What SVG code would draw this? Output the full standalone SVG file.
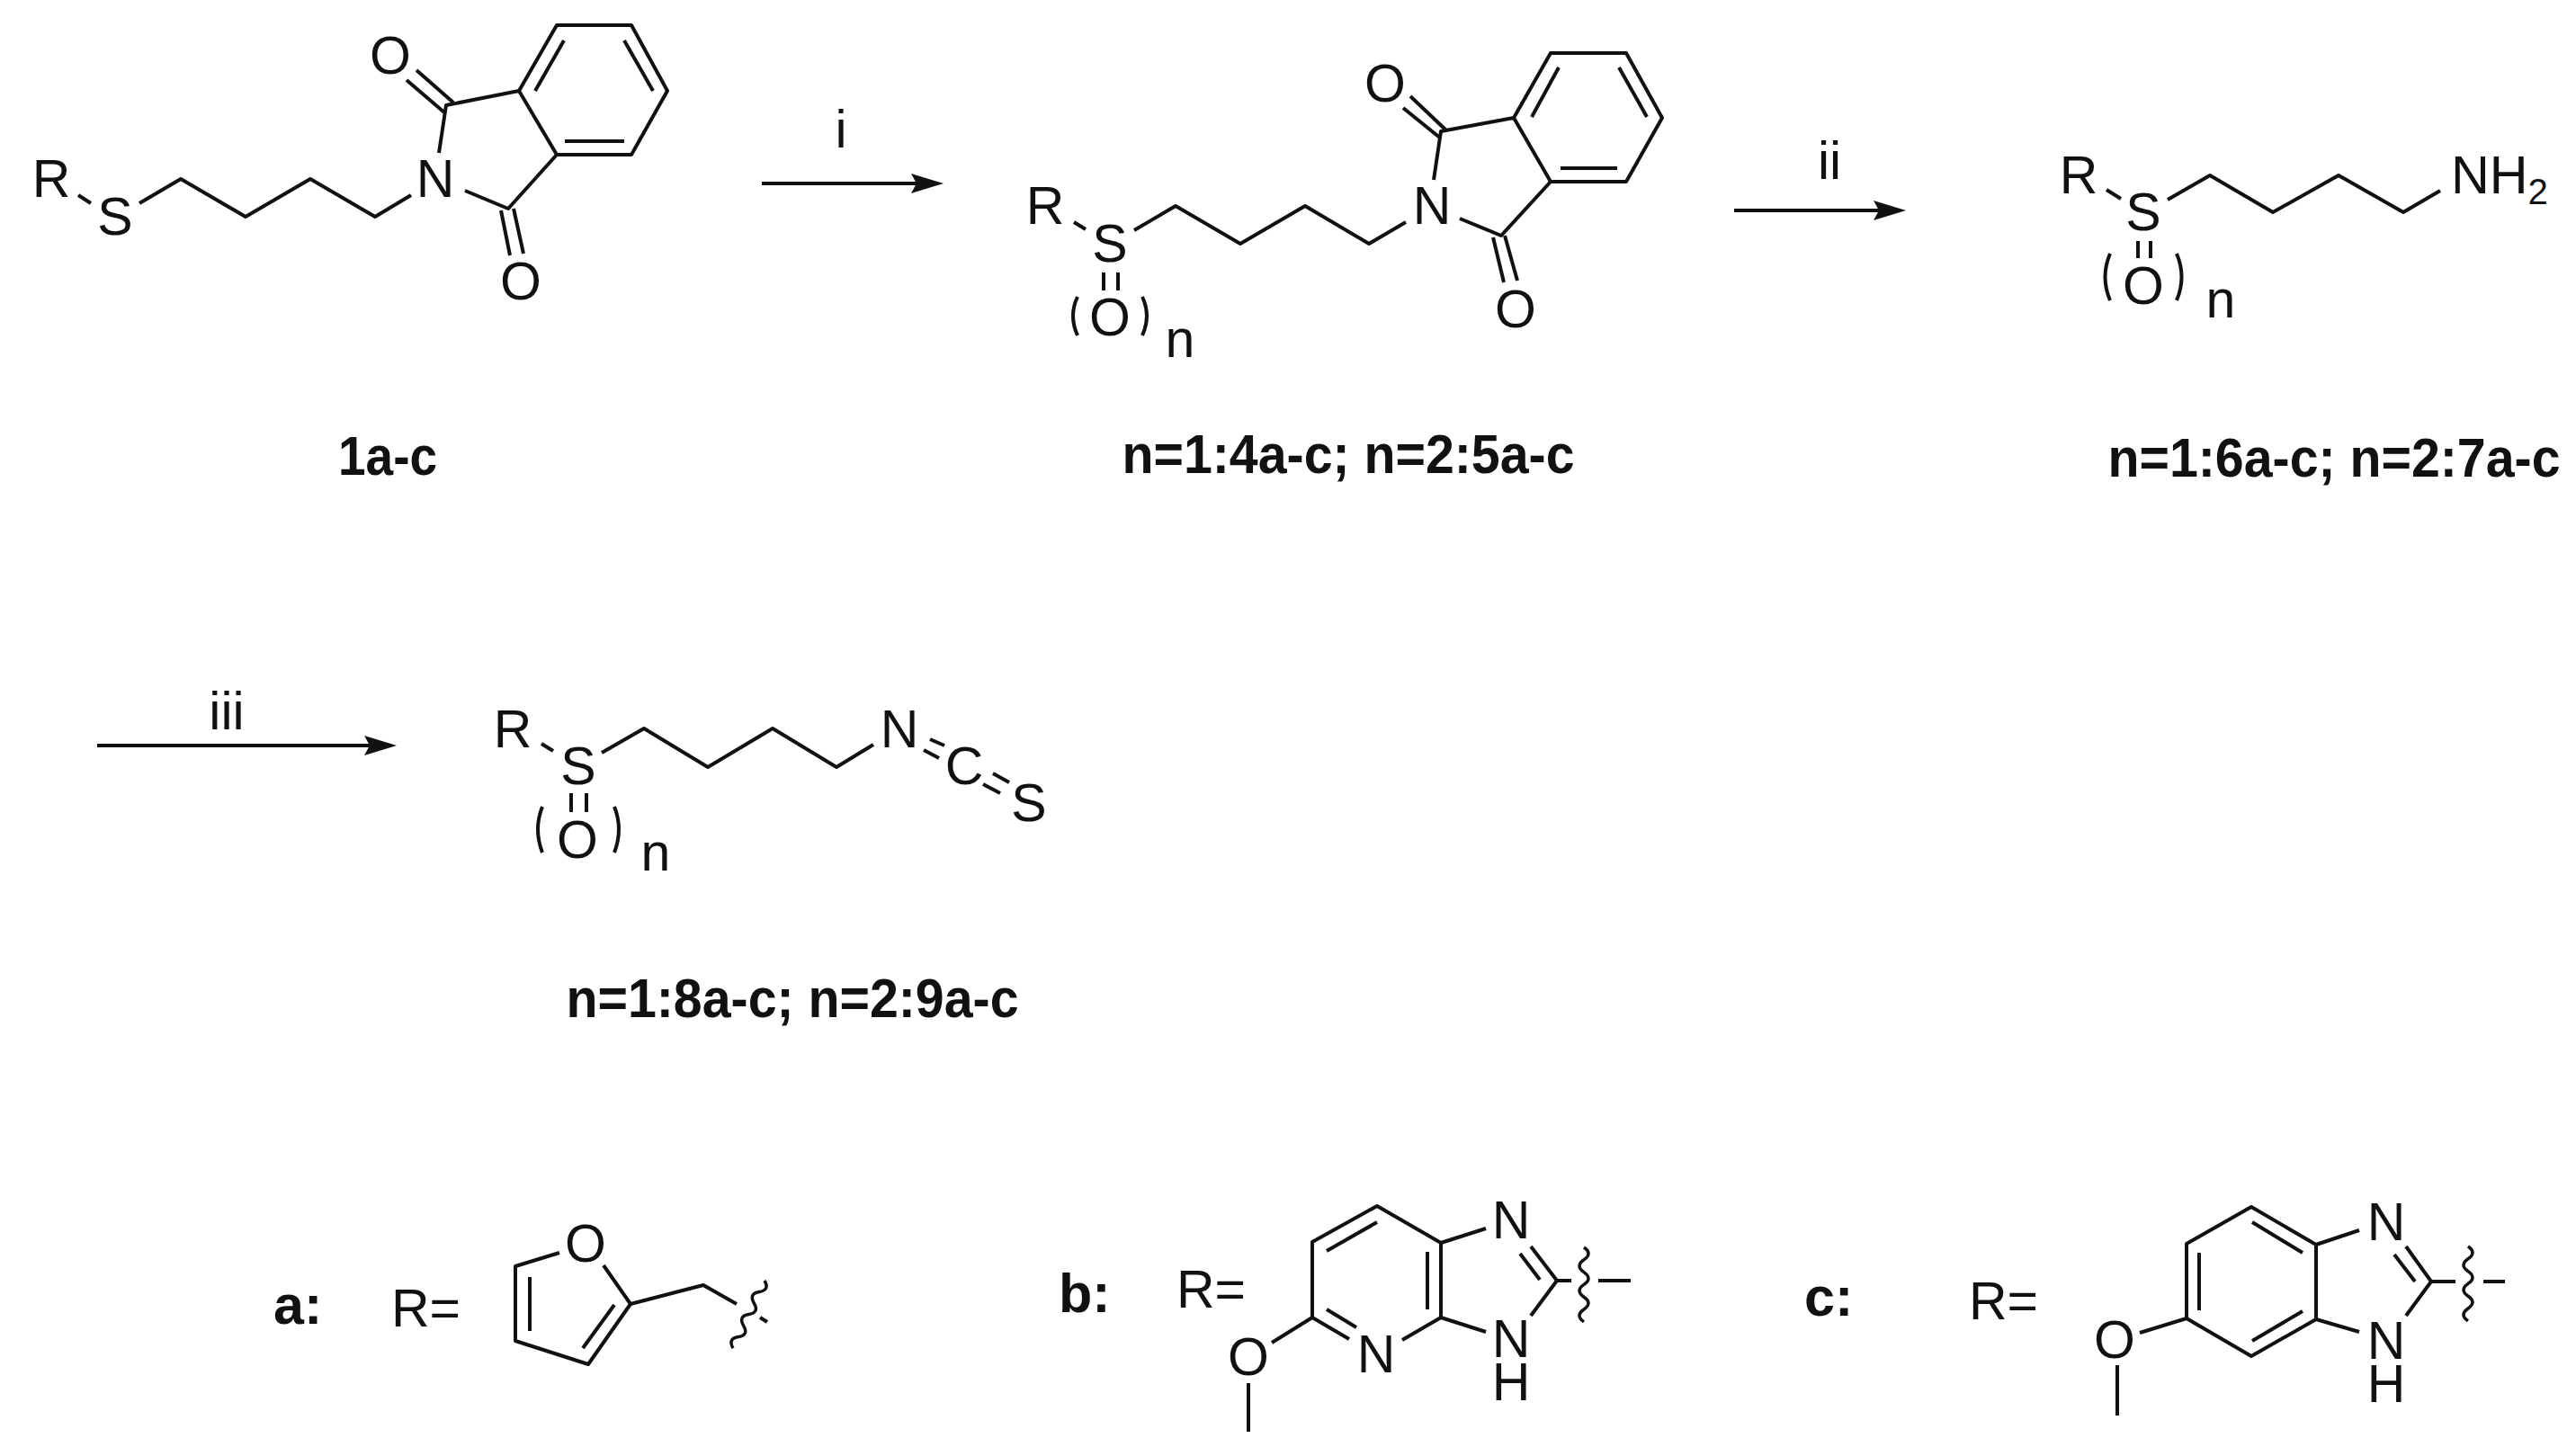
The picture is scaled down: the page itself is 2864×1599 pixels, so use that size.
<svg xmlns="http://www.w3.org/2000/svg" xmlns:xlink="http://www.w3.org/1999/xlink" width="2864" height="1599" viewBox="0 0 2864 1599">
<style>
text{font-family:"Liberation Sans",Arial,sans-serif;fill:#111;font-size:59px}
.a{text-anchor:middle}
.b{font-weight:bold;font-size:61px}
.s{font-size:40px}
path,line,polyline{fill:none;stroke:#111;stroke-width:4;stroke-linejoin:round}
.w{stroke-width:3.5}
.h{fill:#111;stroke:none}
</style>
<defs>
<marker id="ah" markerUnits="userSpaceOnUse" markerWidth="38" markerHeight="24" viewBox="0 0 38 24" refX="26" refY="12" orient="auto"><path class="h" d="M1,1 L37,12 L1,23 L7,12z"/></marker>
<path id="wav" class="w" d="M0,0 q10,6.9 0,13.8 t0,13.8 t0,13.8 t0,13.8 t0,13.8 t0,13.8"/>
</defs>
<rect width="2864" height="1599" fill="#fff"/>
<g id="connectors">
<line x1="847" y1="204" x2="1038" y2="204" marker-end="url(#ah)"/>
<line x1="1928" y1="234" x2="2108" y2="234" marker-end="url(#ah)"/>
<line x1="108" y1="829" x2="430" y2="829" marker-end="url(#ah)"/>
<text class="a" x="935" y="164">i</text>
<text class="a" x="2034" y="199">ii</text>
<text class="a" x="252" y="811">iii</text>
</g>
<g id="compound-1">
<polyline points="155,226 201,199 273,241 345,199 417,241 457,217"/>
<line x1="87" y1="217" x2="101" y2="226"/>
<polyline points="488,170 496,117 577,101 619,172 702,172 742,101 702,28 619,28 577,101"/>
<polyline points="517,212 565,232 619,172"/>
<line x1="628" y1="157" x2="694" y2="157"/>
<line x1="595" y1="101" x2="627" y2="45"/>
<line x1="694" y1="45" x2="726" y2="101"/>
<line x1="463" y1="78" x2="504" y2="114"/>
<line x1="452" y1="89" x2="494" y2="125"/>
<line x1="557" y1="234" x2="567" y2="284"/>
<line x1="571" y1="232" x2="582" y2="282"/>
<text class="a" x="57" y="219">R</text>
<text class="a" x="128" y="261">S</text>
<text class="a" x="484" y="219">N</text>
<text class="a" x="434" y="82">O</text>
<text class="a" x="579" y="333">O</text>
<text class="a b" x="431" y="528" textLength="110" lengthAdjust="spacingAndGlyphs">1a-c</text>
</g>
<g id="compound-4-5">
<polyline points="1261,256 1307,229 1379,271 1451,229 1522,271 1563,247"/>
<line x1="1194" y1="247" x2="1207" y2="255"/>
<polyline points="1594,200 1602,146 1683,131 1724,202 1808,202 1848,131 1808,59 1724,59 1683,131"/>
<polyline points="1623,243 1669,262 1724,202"/>
<line x1="1735" y1="187" x2="1798" y2="187"/>
<line x1="1703" y1="130" x2="1733" y2="75"/>
<line x1="1800" y1="75" x2="1831" y2="130"/>
<line x1="1568" y1="107" x2="1608" y2="145"/>
<line x1="1560" y1="120" x2="1602" y2="154"/>
<line x1="1660" y1="264" x2="1672" y2="314"/>
<line x1="1673" y1="262" x2="1687" y2="312"/>
<line x1="1227" y1="303" x2="1227" y2="323"/>
<line x1="1243" y1="303" x2="1243" y2="323"/>
<path d="M1198,330 Q1188,351 1198,373"/>
<path d="M1270,330 Q1280,351 1270,373"/>
<text class="a" x="1162" y="249">R</text>
<text class="a" x="1234" y="291">S</text>
<text class="a" x="1592" y="249">N</text>
<text class="a" x="1540" y="113">O</text>
<text class="a" x="1685" y="364">O</text>
<text class="a" x="1234" y="373">O</text>
<text class="a" x="1312" y="397">n</text>
<text class="a b" x="1499" y="526" textLength="503" lengthAdjust="spacingAndGlyphs">n=1:4a-c; n=2:5a-c</text>
</g>
<g id="compound-6-7">
<polyline points="2410,222 2457,195 2527,236 2600,195 2672,236 2713,212"/>
<line x1="2342" y1="211" x2="2358" y2="221"/>
<line x1="2377" y1="268" x2="2377" y2="287"/>
<line x1="2391" y1="268" x2="2391" y2="287"/>
<path d="M2346,282 Q2335,308 2346,334"/>
<path d="M2420,282 Q2431,308 2420,334"/>
<text class="a" x="2311" y="215">R</text>
<text class="a" x="2383" y="256">S</text>
<text class="a" x="2383" y="338">O</text>
<text class="a" x="2469" y="353">n</text>
<text x="2725" y="215" textLength="108" lengthAdjust="spacingAndGlyphs">NH<tspan class="s" dy="12">2</tspan></text>
<text class="a b" x="2595" y="530" textLength="503" lengthAdjust="spacingAndGlyphs">n=1:6a-c; n=2:7a-c</text>
</g>
<g id="compound-8-9">
<polyline points="669,837 716,810 787,853 859,810 930,853 971,828"/>
<line x1="602" y1="827" x2="615" y2="835"/>
<line x1="1034" y1="822" x2="1050" y2="829"/>
<line x1="1027" y1="834" x2="1044" y2="843"/>
<line x1="1104" y1="860" x2="1122" y2="870"/>
<line x1="1093" y1="872" x2="1112" y2="882"/>
<line x1="635" y1="882" x2="635" y2="903"/>
<line x1="652" y1="882" x2="652" y2="903"/>
<path d="M603,897 Q593,922 603,948"/>
<path d="M683,897 Q693,922 683,948"/>
<text class="a" x="570" y="831">R</text>
<text class="a" x="643" y="872">S</text>
<text class="a" x="642" y="954">O</text>
<text class="a" x="729" y="968">n</text>
<text class="a" x="1000" y="831">N</text>
<text class="a" x="1072" y="872">C</text>
<text class="a" x="1144" y="913">S</text>
<text class="a b" x="881" y="1131" textLength="503" lengthAdjust="spacingAndGlyphs">n=1:8a-c; n=2:9a-c</text>
</g>
<g id="substituent-a">
<polyline points="622,1393 573,1408 573,1491 654,1517 701,1450 671,1407"/>
<line x1="589" y1="1420" x2="589" y2="1480"/>
<line x1="683" y1="1451" x2="648" y2="1499"/>
<polyline points="701,1450 782,1429 819,1450"/>
<use xlink:href="#wav" href="#wav" transform="translate(850,1424) rotate(25)"/>
<line x1="845" y1="1465" x2="853" y2="1470"/>
<text class="a" x="651" y="1403">O</text>
<text class="b" x="304" y="1472">a:</text>
<text x="435" y="1475">R=</text>
</g>
<g id="substituent-b">
<polyline points="1500,1489 1459,1465 1459,1381 1531,1341 1602,1382 1602,1465 1559,1490"/>
<line x1="1475" y1="1391" x2="1531" y2="1359"/>
<line x1="1475" y1="1456" x2="1508" y2="1476"/>
<line x1="1587" y1="1392" x2="1587" y2="1456"/>
<line x1="1602" y1="1382" x2="1652" y2="1366"/>
<line x1="1602" y1="1465" x2="1652" y2="1481"/>
<polyline points="1702,1386 1731,1424 1702,1463"/>
<line x1="1690" y1="1394" x2="1712" y2="1423"/>
<line x1="1731" y1="1424" x2="1747" y2="1424"/>
<line x1="1777" y1="1424" x2="1813" y2="1424"/>
<use xlink:href="#wav" href="#wav" transform="translate(1761,1387)"/>
<line x1="1414" y1="1493" x2="1459" y2="1465"/>
<line x1="1388" y1="1538" x2="1388" y2="1592"/>
<text class="a" x="1680" y="1377">N</text>
<text class="a" x="1680" y="1509">N<tspan x="1680" dy="48">H</tspan></text>
<text class="a" x="1530" y="1526">N</text>
<text class="a" x="1388" y="1529">O</text>
<text class="b" x="1177" y="1459">b:</text>
<text x="1308" y="1454">R=</text>
</g>
<g id="substituent-c">
<polygon points="2431,1383 2503,1342 2575,1384 2575,1467 2503,1508 2431,1466" style="fill:none;stroke:#111;stroke-width:4;stroke-linejoin:round"/>
<line x1="2445" y1="1393" x2="2445" y2="1457"/>
<line x1="2504" y1="1359" x2="2560" y2="1393"/>
<line x1="2504" y1="1491" x2="2560" y2="1458"/>
<line x1="2575" y1="1384" x2="2623" y2="1368"/>
<line x1="2575" y1="1467" x2="2623" y2="1481"/>
<polyline points="2675,1386 2703,1425 2675,1463"/>
<line x1="2662" y1="1395" x2="2685" y2="1425"/>
<line x1="2703" y1="1425" x2="2730" y2="1425"/>
<line x1="2761" y1="1425" x2="2785" y2="1425"/>
<use xlink:href="#wav" href="#wav" transform="translate(2744,1386)"/>
<line x1="2379" y1="1482" x2="2431" y2="1466"/>
<line x1="2354" y1="1518" x2="2354" y2="1574"/>
<text class="a" x="2653" y="1379">N</text>
<text class="a" x="2653" y="1511">N<tspan x="2653" dy="48">H</tspan></text>
<text class="a" x="2351" y="1510">O</text>
<text class="b" x="2006" y="1463">c:</text>
<text x="2189" y="1467">R=</text>
</g>
</svg>
